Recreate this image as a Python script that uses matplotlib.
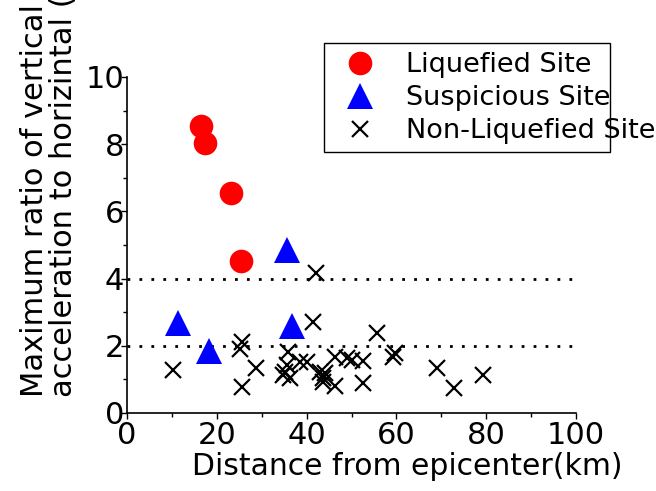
import matplotlib
matplotlib.use("Agg")
import matplotlib.pyplot as plt
from matplotlib.patches import Rectangle
from matplotlib.ticker import MultipleLocator

plt.rcParams['font.family'] = ['DejaVu Sans']

liq_x = [16.5, 17.4, 23.2, 25.5]
liq_y = [8.54, 8.04, 6.54, 4.52]

sus_x = [11.3, 18.3, 35.6, 36.7]
sus_y = [2.69, 1.85, 4.84, 2.59]

non_x = [10.3, 25.7, 25.2, 28.7, 25.7, 35.9, 35.6, 35.2, 36.3, 34.8,
         38.5, 40.0, 41.4, 42.0, 43.0, 44.1, 43.7, 43.7, 46.3, 46.3,
         48.9, 50.0, 52.6, 52.6, 55.6, 59.7, 59.3, 69.1, 72.8, 79.2]
non_y = [1.28, 2.10, 1.90, 1.33, 0.78, 1.82, 1.43, 1.23, 1.03, 1.13,
         1.53, 1.53, 2.72, 4.18, 1.23, 1.18, 1.03, 0.93, 1.68, 0.80,
         1.63, 1.58, 1.55, 0.88, 2.39, 1.78, 1.68, 1.33, 0.75, 1.13]

ref_levels = [2, 4]

W, H = 656, 491
fig = plt.figure(figsize=(W/100, H/100), dpi=100)
ax = fig.add_axes([127/W, 1-413/H, (576-127)/W, (413-77)/H])

for lv in ref_levels:
    ax.plot([0, 100], [lv, lv], color='black', lw=2.0,
            linestyle=(0, (1, 3.3)), dash_capstyle='butt', zorder=1)

ax.plot(non_x, non_y, linestyle='none', marker='x', color='black',
        markersize=12, markeredgewidth=1.6, label='Non-Liquefied Site', zorder=3)
ax.plot(sus_x, sus_y, linestyle='none', marker='^', color='#0000ff',
        markersize=19, markeredgewidth=0, label='Suspicious Site', zorder=4)
ax.plot(liq_x, liq_y, linestyle='none', marker='o', color='#ff0000',
        markersize=17, markeredgewidth=0, label='Liquefied Site', zorder=5)

ax.set_xlim(0, 100)
ax.set_ylim(0, 10)
ax.spines['top'].set_visible(False)
ax.spines['right'].set_visible(False)
ax.spines['left'].set_linewidth(1.2)
ax.spines['bottom'].set_linewidth(1.2)
ax.xaxis.set_major_locator(MultipleLocator(20))
ax.xaxis.set_minor_locator(MultipleLocator(10))
ax.yaxis.set_major_locator(MultipleLocator(2))
ax.yaxis.set_minor_locator(MultipleLocator(1))
ax.tick_params(which='major', direction='out', length=4, width=1, labelsize=22)
ax.tick_params(which='minor', direction='out', length=3, width=1)
ax.tick_params(axis='y', which='major', pad=-2)
ax.tick_params(axis='x', which='major', pad=2)

fig.text(407/W, 1-475/H, 'Distance from epicenter(km)', ha='center',
         va='baseline', fontsize=21.5)
fig.text(49/W, 1-397/H,
         'Maximum ratio of vertical\nacceleration to horizintal (acc.)',
         rotation=90, rotation_mode='anchor', ha='left', va='center',
         multialignment='left', fontsize=22, linespacing=0.98)

h, l = ax.get_legend_handles_labels()
order = [2, 1, 0]
leg = fig.legend([h[i] for i in order], [l[i] for i in order],
                 loc='upper left', bbox_to_anchor=(341/W, 1-52/H),
                 bbox_transform=fig.transFigure, frameon=False,
                 fontsize=19.5, borderpad=0, borderaxespad=0,
                 labelspacing=0.26, handlelength=1.4, handletextpad=1.0,
                 numpoints=1)
leg.set_zorder(6)
fig.add_artist(Rectangle((324/W, 1-152/H), (610-324)/W, (152-43)/H,
                         transform=fig.transFigure, fill=False,
                         edgecolor='black', lw=1.0, zorder=5))

fig.savefig('out.png', dpi=100)
